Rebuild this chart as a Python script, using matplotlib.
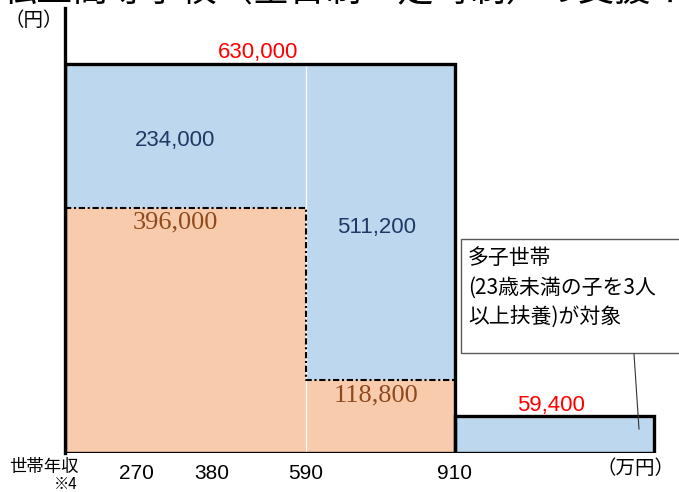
import numpy as np
import matplotlib
matplotlib.use("Agg")
import matplotlib.pyplot as plt
from matplotlib.patches import Rectangle
from matplotlib.lines import Line2D

# ---------------- data ----------------
title = "私立高等学校（全日制・定時制）の支援イメージ"
income_ticks = [270, 380, 590, 910]            # 世帯年収 (万円)
income_ends = [0, 590, 910]                    # segment boundaries
multi_child_end = 1300                          # visual end of 多子世帯 bar
total_support = 630000                          # 上限 (0-590)
base_support_low = 396000                       # 就学支援金 (0-590)
base_support_mid = 118800                       # 就学支援金 (590-910)
extra_low = 234000                              # 加算 (0-590)
extra_mid = 511200                              # 加算 (590-910)
multi_child_support = 59400                     # 多子世帯 (910-)
total_label = "630,000"
callout_lines = ["多子世帯", "(23歳未満の子を3人", "以上扶養)が対象"]

BLUE = "#BDD7EE"
ORANGE = "#F8CBAD"
NAVY = "#203864"
BROWN = "#8E4A1C"
RED = "#FF0000"
CJK = ["Noto Sans CJK JP", "DejaVu Sans"]
SANS = ["Liberation Sans", "DejaVu Sans"]
SERIF = ["Liberation Serif", "DejaVu Serif"]

W, H = 679, 492
fig = plt.figure(figsize=(W / 100, H / 100), dpi=100)

def fx(px):
    return px / W

def fy(py):
    return 1 - py / H

# non-linear income axis (piecewise scale as in the original slide)
inc_pts = np.array([-100, 0, 270, 380, 590, 910, 1300, 1400, 2000], float)
pos_pts = np.array([40, 65, 136, 212, 306, 455, 654, 679, 800], float)

def fwd(x):
    return np.interp(x, inc_pts, pos_pts)

def inv(p):
    return np.interp(p, pos_pts, inc_pts)

ax_left, ax_right, ax_top, ax_bottom = 65, 679, 8, 453
ax = fig.add_axes([fx(ax_left), fy(ax_bottom), (ax_right - ax_left) / W, (ax_bottom - ax_top) / H])
ax.set_xscale("function", functions=(fwd, inv))
ax.set_xlim(0, 1400)
ax.set_ylim(0, total_support * (ax_bottom - ax_top) / (ax_bottom - 64))

x0, x1, x2 = income_ends
# fills
ax.add_patch(Rectangle((x0, 0), x2 - x0, total_support, facecolor=BLUE, edgecolor="none", zorder=1))
ax.add_patch(Rectangle((x0, 0), x1 - x0, base_support_low, facecolor=ORANGE, edgecolor="none", zorder=2))
ax.add_patch(Rectangle((x1, 0), x2 - x1, base_support_mid, facecolor=ORANGE, edgecolor="none", zorder=2))
ax.add_patch(Rectangle((x2, 0), multi_child_end - x2, multi_child_support, facecolor=BLUE,
                       edgecolor="black", linewidth=2.4, zorder=4))
# white divider
ax.plot([x1, x1], [0, total_support], color="white", lw=0.9, zorder=3)
# dash-dot boundary of 就学支援金
ds = (0, (3, 1.3, 1, 1.3))
ax.plot([x0, x1, x1, x2], [base_support_low, base_support_low, base_support_mid, base_support_mid],
        color="black", lw=1.5, linestyle=ds, zorder=3)
# black outline of main block
ax.add_patch(Rectangle((x0, 0), x2 - x0, total_support, facecolor="none",
                       edgecolor="black", linewidth=2.4, zorder=4))

def mid(a, b):
    return inv((fwd(a) + fwd(b)) / 2)

def label(x, y, s, dx, dy, color, family, size):
    ax.annotate(s, (x, y), xytext=(dx, dy), textcoords="offset pixels", ha="center", va="center",
                color=color, family=family, fontsize=size, zorder=6)

label(mid(x0, x2), total_support, total_label, -2, 12, RED, SANS, 16)
label(mid(x2, multi_child_end), multi_child_support, f"{multi_child_support:,}", -4, 11, RED, SANS, 16)
label(mid(x0, x1), (base_support_low + total_support) / 2, f"{extra_low:,}", -10, -4, NAVY, SANS, 16)
label(mid(x1, x2), (base_support_mid + total_support) / 2, f"{extra_mid:,}", -4, -6, NAVY, SANS, 16)
label(mid(x0, x1), base_support_low, f"{base_support_low:,}", -10, -14, BROWN, SERIF, 19)
label(mid(x1, x2), base_support_mid, f"{base_support_mid:,}", -4, -16, BROWN, SERIF, 19)

# axes styling
for s in ["top", "right", "bottom"]:
    ax.spines[s].set_visible(False)
ax.spines["left"].set_linewidth(2.4)
ax.set_yticks([])
ax.set_xticks(income_ticks)
ax.set_xticklabels([str(t) for t in income_ticks], family=SANS, fontsize=15)
ax.tick_params(axis="x", length=0, pad=8)
ax.patch.set_alpha(0)

# texts outside the axes
fig.text(fx(1), fy(1), title, family=CJK, fontsize=26, ha="left", va="baseline")
fig.text(fx(34), fy(21), "（円）", family=CJK, fontsize=14, ha="center", va="center")
fig.text(fx(44), fy(467), "世帯年収", family=CJK, fontsize=12.5, ha="center", va="center")
fig.text(fx(66), fy(484), "※4", family=CJK, fontsize=11, ha="center", va="center")
fig.text(fx(675), fy(469), "（万円）", family=CJK, fontsize=14, ha="right", va="center")

# callout box
fig.add_artist(Rectangle((fx(461), fy(353)), 300 / W, (353 - 239) / H, transform=fig.transFigure,
                         facecolor="white", edgecolor="#595959", linewidth=1.0, zorder=5))
for s, yy in zip(callout_lines, [258, 288, 317]):
    fig.text(fx(468), fy(yy), s, family=CJK, fontsize=15, ha="left", va="center", zorder=6)
fig.add_artist(Line2D([fx(634), fx(639)], [fy(354), fy(429)], transform=fig.transFigure,
                      color="#333333", lw=0.8, zorder=6))

fig.savefig("out.png", dpi=100)
